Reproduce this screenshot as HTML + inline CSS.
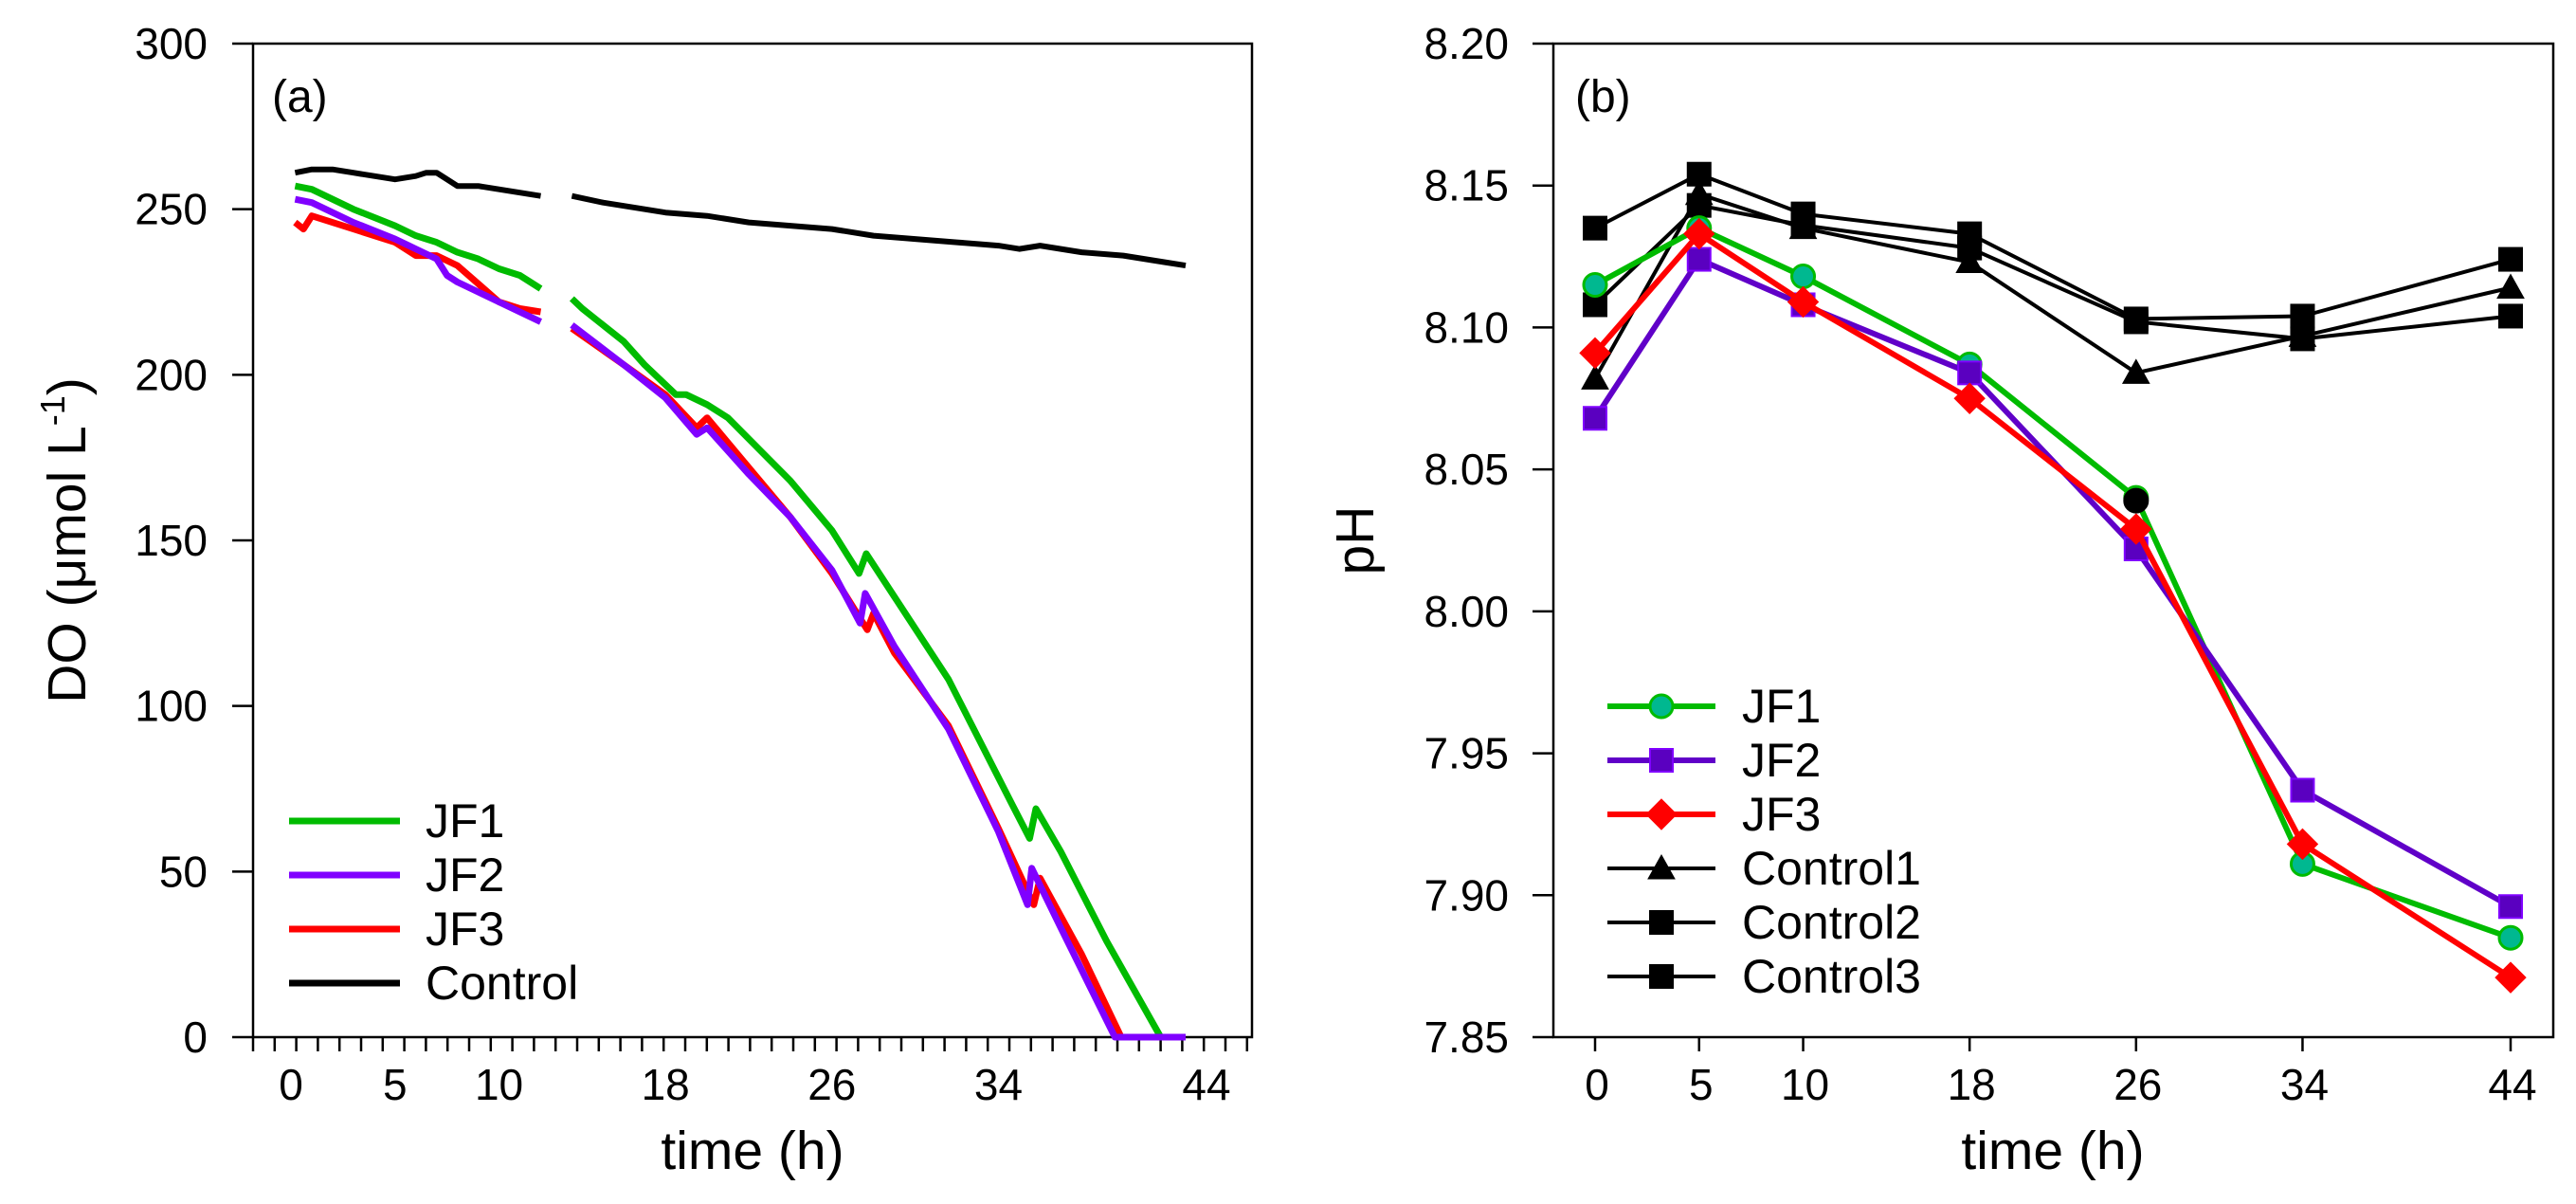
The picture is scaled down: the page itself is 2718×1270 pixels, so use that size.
<!DOCTYPE html>
<html><head><meta charset="utf-8"><style>
html,body{margin:0;padding:0;background:#fff;}
svg{display:block;font-family:"Liberation Sans",Arial,sans-serif;}
</style></head><body>
<svg id="chart" width="2718" height="1270" viewBox="0 0 2718 1270" xmlns="http://www.w3.org/2000/svg">
<rect x="0" y="0" width="2718" height="1270" fill="#fff"/>
<g id="pa"></g>
<g id="pb"></g>
</svg>
<script>
// ---- Panel (a) DO data ----
const doTicks = [0,50,100,150,200,250,300];
const doTimeLabels = [0,5,10,18,26,34,44];
const controlT1 = [0.2,1,2,3,4,5,6,6.5,7,7.5,8,9,10,11,12];
const controlV1 = [261,262,262,261,260,259,260,261,261,259,257,257,256,255,254];
const controlT2 = [13.5,15,16,18,20,22,24,26,28,30,32,34,35,36,38,40,42,43];
const controlV2 = [254,252,251,249,248,246,245,244,242,241,240,239,238,239,237,236,234,233];
const jf1T1 = [0.2,1,3,5,6,7,8,9,10,11,12];
const jf1V1 = [257,256,250,245,242,240,237,235,232,230,226];
const jf1T2 = [13.5,14,16,17,18.5,19,20,21,24,26,27.3,27.65,29,31.6,34.6,35.5,35.8,37,39.2,41.8,43];
const jf1V2 = [223,220,210,203,194,194,191,187,168,153,140,146,133,108,71,60,69,56,29,0,0];
const jf2T1 = [0.2,1,3,5,6,7,7.5,8,9,10,11,12];
const jf2V1 = [253,252,246,241,238,235,230,228,225,222,219,216];
const jf2T2 = [13.5,16,18,19.5,20,22,24,26,27.35,27.6,29,31.6,34,35.4,35.6,37,39.6,43];
const jf2V2 = [215,203,193,182,184,170,157,141,125,134,118,93,62,40,51,33,0,0];
const jf3T1 = [0.2,0.6,1,3,5,6,7,8,10,11,12];
const jf3V1 = [246,244,248,244,240,236,236,233,222,220,219];
const jf3T2 = [13.5,16,18,19.5,20,22,24,26,27.7,28,29,31.6,34,35.7,36,38,39.9,43];
const jf3V2 = [214,203,194,184,187,172,157,140,123,128,116,94,63,40,48,25,0,0];

// ---- Panel (b) pH data ----
const phTimes = [0,5,10,18,26,34,44];
const phTicks = [7.85,7.90,7.95,8.00,8.05,8.10,8.15,8.20];
const phJF1 = [8.115,8.135,8.118,8.087,8.040,7.911,7.885];
const phJF2 = [8.068,8.124,8.108,8.084,8.022,7.937,7.896];
const phJF3 = [8.091,8.133,8.109,8.075,8.029,7.918,7.871];
const phC1 = [8.082,8.147,8.135,8.123,8.084,8.097,8.114];
const phC2 = [8.135,8.154,8.140,8.133,8.103,8.104,8.124];
const phC3 = [8.108,8.143,8.136,8.128,8.102,8.096,8.104];
const phExtraT = [26];
const phExtraV = [8.039];

const NS="http://www.w3.org/2000/svg";
function mk(parent,tag,attrs,text){const e=document.createElementNS(NS,tag);for(const k in attrs)e.setAttribute(k,attrs[k]);if(text!==undefined)e.textContent=text;parent.appendChild(e);return e;}

const A={l:267,r:1321,t:46,b:1094,x0:307,x1:1273};
const B={l:1639,r:2694,t:46,b:1094,x0:1683,x1:2649};
const xa=h=>A.x0+(A.x1-A.x0)*h/44;
const ya=v=>A.b-(A.b-A.t)*v/300;
const xb=h=>B.x0+(B.x1-B.x0)*h/44;
const yb=v=>B.b-(B.b-B.t)*(v-7.85)/0.35;

const pa=document.getElementById('pa');
const pb=document.getElementById('pb');

let e;
e=mk(pa,'rect',{x:A.l,y:A.t,width:A.r-A.l,height:A.b-A.t,fill:'none',stroke:'#000','stroke-width':2.5});


doTicks.forEach(v=>{
  const t=mk(pa,'line',{x1:A.l-22,x2:A.l,y1:ya(v),y2:ya(v),stroke:'#000','stroke-width':2.5});
  
  
  const l=mk(pa,'text',{x:219,y:ya(v)+16,'text-anchor':'end','font-size':46},String(v));
  
  
});
for(let x=A.l;x<=A.r+1;x+=22.8){
  const t=mk(pa,'line',{x1:x,x2:x,y1:A.b,y2:A.b+15,stroke:'#000','stroke-width':2.5});
  
  
}
doTimeLabels.forEach(h=>{
  const l=mk(pa,'text',{x:xa(h),y:1160,'text-anchor':'middle','font-size':46},String(h));
  
  
});
e=mk(pa,'text',{x:794,y:1233,'text-anchor':'middle','font-size':57},'time (h)');


e=mk(pa,'text',{x:0,y:0,'text-anchor':'middle','font-size':57,transform:'translate(90,570) rotate(-90)'});


e.innerHTML='DO (μmol L<tspan dy="-22" font-size="36">-1</tspan><tspan dy="22">)</tspan>';
e=mk(pa,'text',{x:287,y:118,'font-size':48},'(a)');



function series(parent,T,V,fx,fy,color,w,name){
  const d=T.map((t,i)=>(i?'L':'M')+fx(t).toFixed(1)+','+fy(V[i]).toFixed(1)).join(' ');
  const p=mk(parent,'path',{d:d,fill:'none',stroke:color,'stroke-width':w,'stroke-linejoin':'round'});
  
  
  return p;
}
series(pa,controlT1,controlV1,xa,ya,'#000',6,'control-line-part1');
series(pa,controlT2,controlV2,xa,ya,'#000',6,'control-line-part2');
series(pa,jf1T1,jf1V1,xa,ya,'#00bb00',7,'jf1-line-part1');
series(pa,jf1T2,jf1V2,xa,ya,'#00bb00',7,'jf1-line-part2');
series(pa,jf3T1,jf3V1,xa,ya,'#ff0000',7,'jf3-line-part1');
series(pa,jf3T2,jf3V2,xa,ya,'#ff0000',7,'jf3-line-part2');
series(pa,jf2T1,jf2V1,xa,ya,'#8000ff',7,'jf2-line-part1');
series(pa,jf2T2,jf2V2,xa,ya,'#8000ff',7,'jf2-line-part2');

const legA=[['JF1','#00bb00'],['JF2','#8000ff'],['JF3','#ff0000'],['Control','#000']];
legA.forEach((it,i)=>{
  const y=866+i*57;
  const g=mk(pa,'g',{});
  
  
  mk(g,'line',{x1:305,x2:422,y1:y,y2:y,stroke:it[1],'stroke-width':7});
  mk(g,'text',{x:449,y:y+17,'font-size':50},it[0]);
});

e=mk(pb,'rect',{x:B.l,y:B.t,width:B.r-B.l,height:B.b-B.t,fill:'none',stroke:'#000','stroke-width':2.5});


phTicks.forEach(v=>{
  const t=mk(pb,'line',{x1:B.l-22,x2:B.l,y1:yb(v),y2:yb(v),stroke:'#000','stroke-width':2.5});
  
  
  const l=mk(pb,'text',{x:1592,y:yb(v)+16,'text-anchor':'end','font-size':46},v.toFixed(2));
  
  
});
phTimes.forEach(h=>{
  const t=mk(pb,'line',{x1:xb(h),x2:xb(h),y1:B.b,y2:B.b+15,stroke:'#000','stroke-width':2.5});
  
  
  const l=mk(pb,'text',{x:xb(h)+2,y:1160,'text-anchor':'middle','font-size':46},String(h));
  
  
});
e=mk(pb,'text',{x:2166,y:1233,'text-anchor':'middle','font-size':57},'time (h)');


e=mk(pb,'text',{x:0,y:0,'text-anchor':'middle','font-size':57,transform:'translate(1449,570) rotate(-90)'},'pH');


e=mk(pb,'text',{x:1662,y:118,'font-size':48},'(b)');



function marker(parent,shape,cx,cy,fill,stroke){
  const s=12;
  if(shape==='circle') return mk(parent,'circle',{cx:cx,cy:cy,r:12,fill:fill,stroke:stroke,'stroke-width':3});
  if(shape==='square') return mk(parent,'rect',{x:cx-s,y:cy-s,width:2*s,height:2*s,fill:fill,stroke:stroke,'stroke-width':2});
  if(shape==='diamond') return mk(parent,'polygon',{points:`${cx},${cy-16} ${cx+16},${cy} ${cx},${cy+16} ${cx-16},${cy}`,fill:fill,stroke:stroke,'stroke-width':1});
  return mk(parent,'polygon',{points:`${cx},${cy-14} ${cx+14},${cy+11} ${cx-14},${cy+11}`,fill:fill,stroke:stroke,'stroke-width':1});
}
const phSeries=[
  ['control1',phC1,'#000',4,'triangle','#000','#000'],
  ['control2',phC2,'#000',4,'square','#000','#000'],
  ['control3',phC3,'#000',4,'square','#000','#000'],
  ['jf1',phJF1,'#00bb00',6,'circle','#00b890','#00bb00'],
  ['jf2',phJF2,'#6000c8',6,'square','#5a00c0','#8000ff'],
  ['jf3',phJF3,'#ff0000',6,'diamond','#ff0000','#ff0000']
];
phSeries.forEach(s=>{
  series(pb,phTimes,s[1],xb,yb,s[2],s[3],s[0]+'-line');
  s[1].forEach((v,i)=>{
    const m=marker(pb,s[4],xb(phTimes[i]),yb(v),s[5],s[6]);
    
    
  });
});
phExtraV.forEach((v,i)=>{
  const m=marker(pb,'circle',xb(phExtraT[i]),yb(v),'#000','#000');
  
  
});

const legB=[['JF1','#00bb00',6,'circle','#00b890','#00bb00'],['JF2','#6000c8',6,'square','#5a00c0','#8000ff'],['JF3','#ff0000',6,'diamond','#ff0000','#ff0000'],
            ['Control1','#000',4,'triangle','#000','#000'],['Control2','#000',4,'square','#000','#000'],['Control3','#000',4,'square','#000','#000']];
legB.forEach((it,i)=>{
  const y=745+i*57;
  const g=mk(pb,'g',{});
  
  
  mk(g,'line',{x1:1696,x2:1810,y1:y,y2:y,stroke:it[1],'stroke-width':it[2]});
  marker(g,it[3],1753,y,it[4],it[5]);
  mk(g,'text',{x:1838,y:y+17,'font-size':50},it[0]);
});
</script>
</body></html>
